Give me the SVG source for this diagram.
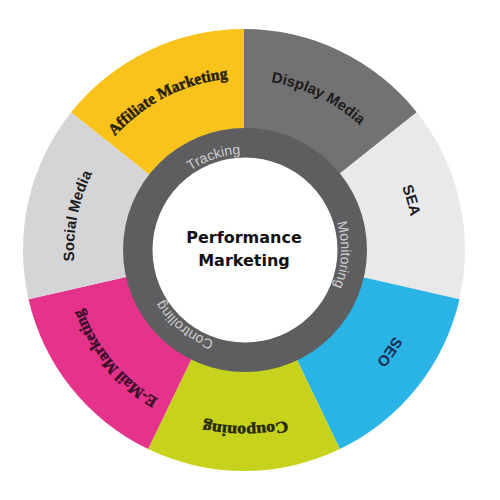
<svg xmlns="http://www.w3.org/2000/svg" xmlns:xlink="http://www.w3.org/1999/xlink" width="500" height="500" viewBox="0 0 500 500">
<style>
.lbl-sans{font-family:"Liberation Sans",Arial,sans-serif;font-weight:bold;font-size:15px;fill:#1c1c1c}
.lbl-serif{font-family:"Liberation Serif","Times New Roman",serif;font-weight:bold;font-size:16px;stroke-width:0.5px}
.ring-lbl{font-family:"Liberation Sans",Arial,sans-serif;font-size:14px;fill:#cfcfcf}
.center{font-family:"DejaVu Sans","Liberation Sans",sans-serif;font-weight:bold;font-size:16px;fill:#111}
</style>
<defs>
<path id="pAff" d="M75.76 285.76 A172 172 0 0 1 371.82 134.91"/>
<path id="pDis" d="M115.70 138.47 A170 170 0 0 1 410.88 282.44"/>
<path id="pSea" d="M239.55 80.06 A170 170 0 0 1 332.83 394.95"/>
<path id="pSeo" d="M376.53 138.80 A173 173 0 0 1 184.83 412.57"/>
<path id="pCou" d="M414.39 294.07 A176 176 0 0 1 74.40 297.03"/>
<path id="pEm" d="M316.69 405.89 A172 172 0 0 1 103.11 151.34"/>
<path id="pSoc" d="M168.15 402.14 A170 170 0 0 1 233.62 80.32"/>
<path id="pTr" d="M149.03 247.65 A96 96 0 0 1 320.03 190.11"/>
<path id="pMo" d="M282.20 161.50 A96 96 0 0 1 273.39 341.71"/>
<path id="pCo" d="M294.73 332.11 A96 96 0 0 1 154.12 219.06"/>
</defs>
<rect width="500" height="500" fill="#fff"/>
<g id="display-media">
<path d="M244 250 L244 29 A221 221 0 0 1 416.78 112.21 Z" fill="#727272"/>
<text class="lbl-sans"><textPath xlink:href="#pDis" href="#pDis" startOffset="50%" text-anchor="middle">Display Media</textPath></text>
</g>
<g id="sea">
<path d="M244 250 L416.78 112.21 A221 221 0 0 1 459.46 299.18 Z" fill="#e9e9ea"/>
<text class="lbl-sans"><textPath xlink:href="#pSea" href="#pSea" startOffset="50%" text-anchor="middle">SEA</textPath></text>
</g>
<g id="seo">
<path d="M244 250 L459.46 299.18 A221 221 0 0 1 339.89 449.11 Z" fill="#2ab4e6"/>
<text class="lbl-sans" style="fill:#1b2a50"><textPath xlink:href="#pSeo" href="#pSeo" startOffset="50%" text-anchor="middle">SEO</textPath></text>
</g>
<g id="couponing">
<path d="M244 250 L339.89 449.11 A221 221 0 0 1 148.11 449.11 Z" fill="#c6d21c"/>
<text class="lbl-serif" fill="#26290a" stroke="#26290a"><textPath xlink:href="#pCou" href="#pCou" startOffset="50%" text-anchor="middle" textLength="84" lengthAdjust="spacingAndGlyphs">Couponing</textPath></text>
</g>
<g id="email-marketing">
<path d="M244 250 L148.11 449.11 A221 221 0 0 1 28.54 299.18 Z" fill="#e5338c"/>
<text class="lbl-serif" fill="#3a0d28" stroke="#3a0d28"><textPath xlink:href="#pEm" href="#pEm" startOffset="50%" text-anchor="middle" textLength="120" lengthAdjust="spacingAndGlyphs">E-Mail Marketing</textPath></text>
</g>
<g id="social-media">
<path d="M244 250 L28.54 299.18 A221 221 0 0 1 71.22 112.21 Z" fill="#d5d5d7"/>
<text class="lbl-sans"><textPath xlink:href="#pSoc" href="#pSoc" startOffset="50%" text-anchor="middle">Social Media</textPath></text>
</g>
<g id="affiliate-marketing">
<path d="M244 250 L71.22 112.21 A221 221 0 0 1 244 29 Z" fill="#f9c31c"/>
<text class="lbl-serif" fill="#2a1f05" stroke="#2a1f05"><textPath xlink:href="#pAff" href="#pAff" startOffset="50%" text-anchor="middle" textLength="130" lengthAdjust="spacingAndGlyphs">Affiliate Marketing</textPath></text>
</g>
<g id="ring">
<circle cx="245" cy="250" r="122" fill="#5e5e60"/>
<text class="ring-lbl"><textPath xlink:href="#pTr" href="#pTr" startOffset="50%" text-anchor="middle">Tracking</textPath></text>
<text class="ring-lbl"><textPath xlink:href="#pMo" href="#pMo" startOffset="50%" text-anchor="middle">Monitoring</textPath></text>
<text class="ring-lbl"><textPath xlink:href="#pCo" href="#pCo" startOffset="50%" text-anchor="middle">Controlling</textPath></text>
</g>
<g id="performance-marketing">
<circle cx="245" cy="250" r="92.5" fill="#fff"/>
<text class="center" x="244" y="243" text-anchor="middle">Performance</text>
<text class="center" x="244" y="266" text-anchor="middle">Marketing</text>
</g>
</svg>
